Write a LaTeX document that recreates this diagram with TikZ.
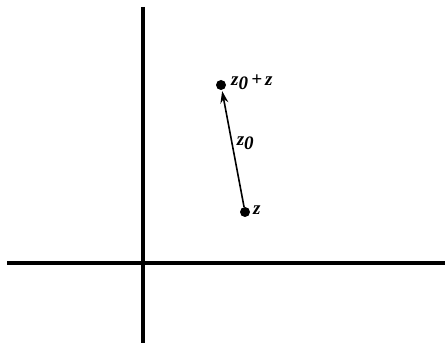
\documentclass[tikz,border=0pt]{standalone}
\usepackage{fontspec}
\setmainfont{Liberation Serif}
\usetikzlibrary{arrows.meta}
\begin{document}
\begin{tikzpicture}[x=1pt,y=-1pt,
  axis/.style={line width=4pt},
  pt/.style={circle,fill=black,inner sep=0pt,minimum size=10pt},
  lbl/.style={font=\fontsize{19}{21}\selectfont\bfseries\itshape,inner sep=1pt}]
\useasboundingbox (0,0) rectangle (446,344);
\coordinate (vt) at (143,7);
\coordinate (vb) at (143,343);
\coordinate (hl) at (7,263);
\coordinate (hr) at (445,263);
\draw[axis] (vt) -- (vb);
\draw[axis] (hl) -- (hr);
\node[pt] (z) at (245,212) {};
\node[pt] (zz) at (221,85) {};
\node[lbl,anchor=west] (lz) at (252,210) {z};
\node[lbl,anchor=west] (lzz) at (230,82) {z\raisebox{-4pt}{0}\,+\,z};
\draw[line width=1.6pt,-{Stealth[length=12pt,width=8pt]},shorten >=1pt] (z) -- (zz) node[lbl,midway,right=2pt,yshift=5pt] (l0) {z\raisebox{-4pt}{0}};
\end{tikzpicture}
\end{document}
